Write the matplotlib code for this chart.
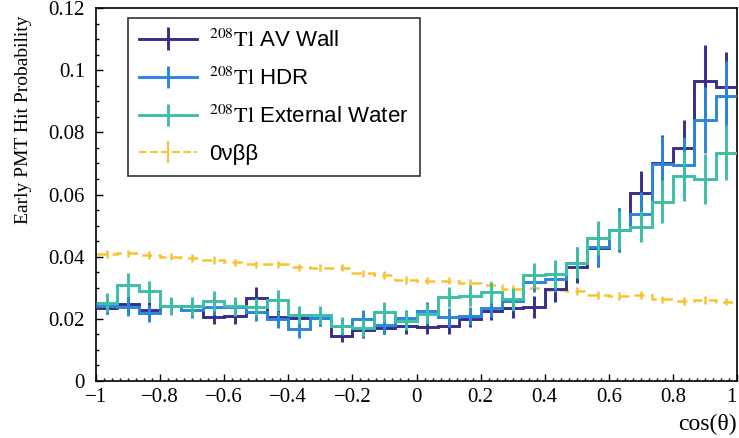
import numpy as np
import matplotlib
matplotlib.use("Agg")
import matplotlib.pyplot as plt
from matplotlib.ticker import MultipleLocator, FuncFormatter

# ---- data -------------------------------------------------------------
n_bins = 30
x_min, x_max = -1.0, 1.0

av_wall = [0.0236, 0.0248, 0.0228, 0.0240, 0.0240, 0.0207, 0.0209, 0.0266, 0.0205, 0.0203,
           0.0202, 0.0145, 0.0163, 0.0170, 0.0177, 0.0175, 0.0177, 0.0198, 0.0226, 0.0234,
           0.0238, 0.0295, 0.0366, 0.0427, 0.0486, 0.0606, 0.0702, 0.0749, 0.0966, 0.0945]
av_wall_err = [0.0020, 0.0025, 0.0025, 0.0025, 0.0025, 0.0025, 0.0025, 0.0035, 0.0025, 0.0025,
               0.0025, 0.0018, 0.0025, 0.0020, 0.0025, 0.0025, 0.0025, 0.0025, 0.0030, 0.0030,
               0.0035, 0.0040, 0.0050, 0.0060, 0.0070, 0.0070, 0.0090, 0.0090, 0.0115, 0.0115]

hdr = [0.0241, 0.0239, 0.0218, 0.0240, 0.0228, 0.0239, 0.0237, 0.0223, 0.0198, 0.0166,
       0.0204, 0.0176, 0.0200, 0.0180, 0.0202, 0.0225, 0.0205, 0.0209, 0.0236, 0.0258,
       0.0320, 0.0327, 0.0381, 0.0430, 0.0486, 0.0537, 0.0698, 0.0695, 0.0840, 0.0918]
hdr_err = [0.0025, 0.0030, 0.0028, 0.0025, 0.0025, 0.0028, 0.0028, 0.0030, 0.0028, 0.0028,
           0.0028, 0.0028, 0.0030, 0.0028, 0.0028, 0.0030, 0.0030, 0.0030, 0.0030, 0.0032,
           0.0035, 0.0040, 0.0050, 0.0060, 0.0070, 0.0070, 0.0090, 0.0090, 0.0105, 0.0110]

ext_water = [0.0252, 0.0309, 0.0288, 0.0241, 0.0240, 0.0258, 0.0240, 0.0238, 0.0260, 0.0212,
             0.0212, 0.0178, 0.0170, 0.0223, 0.0194, 0.0216, 0.0271, 0.0275, 0.0285, 0.0263,
             0.0340, 0.0344, 0.0381, 0.0459, 0.0486, 0.0496, 0.0577, 0.0660, 0.0649, 0.0734]
ext_water_err = [0.0030, 0.0038, 0.0035, 0.0030, 0.0030, 0.0032, 0.0030, 0.0030, 0.0032, 0.0030,
                 0.0030, 0.0028, 0.0030, 0.0032, 0.0030, 0.0032, 0.0033, 0.0035, 0.0035, 0.0035,
                 0.0040, 0.0045, 0.0050, 0.0055, 0.0060, 0.0050, 0.0070, 0.0080, 0.0080, 0.0088]

onu_bb = [0.0408, 0.0411, 0.0405, 0.0400, 0.0395, 0.0389, 0.0382, 0.0375, 0.0375, 0.0366,
          0.0365, 0.0365, 0.0346, 0.0341, 0.0325, 0.0323, 0.0323, 0.0316, 0.0309, 0.0296,
          0.0300, 0.0293, 0.0290, 0.0277, 0.0273, 0.0277, 0.0263, 0.0258, 0.0260, 0.0255]
onu_bb_err = [0.0012] * n_bins

x_ticks = [-1.0, -0.8, -0.6, -0.4, -0.2, 0.0, 0.2, 0.4, 0.6, 0.8, 1.0]
x_tick_labels = ["\u22121", "\u22120.8", "\u22120.6", "\u22120.4", "\u22120.2", "0",
                 "0.2", "0.4", "0.6", "0.8", "1"]
y_ticks = [0.0, 0.02, 0.04, 0.06, 0.08, 0.10, 0.12]
y_tick_labels = ["0", "0.02", "0.04", "0.06", "0.08", "0.1", "0.12"]

labels = [r"$^{208}\mathrm{Tl}$ AV Wall", r"$^{208}\mathrm{Tl}$ HDR",
          r"$^{208}\mathrm{Tl}$ External Water", "0νββ"]
colors = ["#3a2c8c", "#2a86dc", "#3dbfa6", "#f9c232"]

# ---- figure -----------------------------------------------------------
plt.rcParams["font.family"] = ["Liberation Serif", "DejaVu Serif"]
plt.rcParams["mathtext.fontset"] = "stix"

fig = plt.figure(figsize=(7.39, 4.38), dpi=100)
ax = fig.add_axes([96 / 739, 1 - 381 / 438, (737 - 96) / 739, (381 - 8) / 438])

edges = np.linspace(x_min, x_max, n_bins + 1)
centers = 0.5 * (edges[:-1] + edges[1:])

series = [(av_wall, av_wall_err), (hdr, hdr_err), (ext_water, ext_water_err)]
handles = []
for (vals, errs), col in zip(series, colors[:3]):
    ax.stairs(vals, edges, color=col, lw=2.1, baseline=None, zorder=3)
    ax.errorbar(centers, vals, yerr=errs, fmt="none", ecolor=col, elinewidth=2.1, capsize=0, zorder=3)
    h = ax.errorbar([np.nan], [np.nan], yerr=[1], fmt="-", color=col, lw=2.1, elinewidth=2.1, capsize=0)
    handles.append(h)

ax.stairs(onu_bb, edges, color=colors[3], lw=1.8, ls=(0, (4, 2.5)), baseline=None, zorder=2)
ax.errorbar(centers, onu_bb, yerr=onu_bb_err, fmt="none", ecolor=colors[3], elinewidth=1.8, capsize=0, zorder=2)
h = ax.errorbar([np.nan], [np.nan], yerr=[1], fmt="--", color=colors[3], lw=1.5, elinewidth=1.5, capsize=0)
handles.append(h)

ax.set_xlim(x_min, x_max)
ax.set_ylim(0, 0.12)

ax.set_xticks(x_ticks, x_tick_labels)
ax.set_yticks(y_ticks, y_tick_labels)
ax.xaxis.set_minor_locator(MultipleLocator(0.025))
ax.yaxis.set_minor_locator(MultipleLocator(0.005))

ax.tick_params(which="both", direction="in", top=False, right=False, labelsize=15, width=1)
ax.tick_params(which="major", length=5)
ax.tick_params(which="minor", length=2.5)
ax.tick_params(axis="x", pad=5)
ax.tick_params(axis="y", pad=8)
for sp in ax.spines.values():
    sp.set_linewidth(1.2)

for lab in ax.get_xticklabels():
    if lab.get_text() == "1":
        lab.set_horizontalalignment("right")

ax.set_ylabel("Early PMT Hit Probability", fontsize=14)
ax.yaxis.label.set_horizontalalignment("right")
ax.yaxis.set_label_coords(-0.1, 0.981)
ax.set_xlabel("cos(θ)", fontsize=17)
ax.xaxis.label.set_horizontalalignment("right")
ax.xaxis.label.set_verticalalignment("center")
ax.xaxis.set_label_coords(1.0, -0.117)

leg = ax.legend(handles, labels, loc="upper left", bbox_to_anchor=(0.05, 0.973),
                borderaxespad=0, frameon=True, fancybox=False, edgecolor="black",
                handlelength=2.6, borderpad=0.5, labelspacing=0.72, handletextpad=0.55,
                prop={"family": ["Liberation Sans", "DejaVu Sans"], "size": 16})
leg.get_frame().set_linewidth(1.2)

fig.savefig("out.png", dpi=100)
